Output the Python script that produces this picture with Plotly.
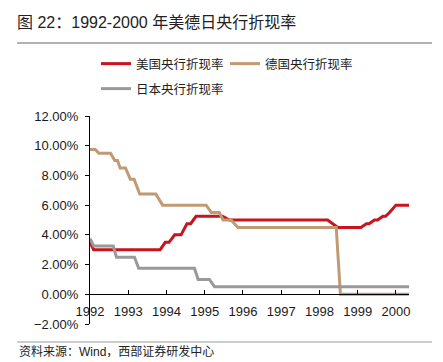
import plotly.graph_objects as go

# ---------------- data ----------------
us_dates = ["1992-01-01", "1992-02-05", "1993-11-01", "1993-12-20", "1994-01-25",
            "1994-03-20", "1994-05-20", "1994-07-15", "1994-08-20", "1994-10-10",
            "1995-06-20", "1995-08-25", "1998-03-20", "1998-06-25", "1999-02-01",
            "1999-03-25", "1999-04-20", "1999-06-10", "1999-07-10", "1999-08-30",
            "1999-09-25", "1999-11-01", "2000-01-01", "2000-05-05"]
us_vals = [3.5, 3.0, 3.0, 3.5, 3.5,
           4.0, 4.0, 4.75, 4.75, 5.25,
           5.25, 5.0, 5.0, 4.5, 4.5,
           4.75, 4.75, 5.0, 5.0, 5.25,
           5.25, 5.5, 6.0, 6.0]

de_dates = ["1992-01-01", "1992-02-20", "1992-03-25", "1992-07-15", "1992-08-25",
            "1992-09-20", "1992-10-15", "1992-12-05", "1993-01-20", "1993-02-25",
            "1993-04-20", "1993-09-20", "1993-11-25", "1995-01-15", "1995-03-05",
            "1995-05-20", "1995-06-25", "1995-09-10", "1995-11-15", "1998-06-10",
            "1998-07-20", "2000-05-05"]
de_vals = [9.75, 9.75, 9.5, 9.5, 9.0,
           9.0, 8.5, 8.5, 7.75, 7.75,
           6.75, 6.75, 6.0, 6.0, 5.5,
           5.5, 5.0, 5.0, 4.5, 4.5,
           0.0, 0.0]

jp_dates = ["1992-01-01", "1992-02-05", "1992-08-10", "1992-09-10", "1993-03-01",
            "1993-04-10", "1994-09-25", "1994-10-30", "1995-02-15", "1995-04-05",
            "2000-05-05"]
jp_vals = [3.75, 3.25, 3.25, 2.5, 2.5,
           1.75, 1.75, 1.0, 1.0, 0.5,
           0.5]

series_names = ["美国央行折现率", "德国央行折现率", "日本央行折现率"]
title_text = "图 22：1992-2000 年美德日央行折现率"
source_text = "资料来源：Wind，西部证券研发中心"

# ---------------- layout constants ----------------
# the page body adds an 8px margin, so the figure is drawn 8px smaller
OFF = 8
W, H = 443 - OFF, 362 - OFF
ML, MR, MT, MB = 90 - OFF, 34, 116 - OFF, 38
PW, PH = W - ML - MR, H - MT - MB
FONT = "Liberation Sans, Arial, Noto Sans CJK SC"
RED, TAN, GRAY = "#C8141E", "#C09A72", "#999999"


def px_x(px):  # reference-picture pixel -> paper fraction
    return (px - OFF - ML) / PW


def px_y(py):
    return (H - MB - (py - OFF)) / PH


fig = go.Figure()
fig.add_trace(go.Scatter(x=us_dates, y=us_vals, mode="lines", name=series_names[0],
                         line=dict(color=RED, width=3), legend="legend"))
fig.add_trace(go.Scatter(x=de_dates, y=de_vals, mode="lines", name=series_names[1],
                         line=dict(color=TAN, width=3), legend="legend"))
fig.add_trace(go.Scatter(x=jp_dates, y=jp_vals, mode="lines", name=series_names[2],
                         line=dict(color=GRAY, width=3), legend="legend2"))

legend_common = dict(orientation="h", xref="container", yref="container",
                     xanchor="left", yanchor="middle", itemwidth=30,
                     entrywidth=84, bgcolor="rgba(0,0,0,0)",
                     font=dict(family=FONT, size=12.5, color="#222222"))

fig.update_layout(
    width=W, height=H,
    margin=dict(l=ML, r=MR, t=MT, b=MB, autoexpand=False),
    paper_bgcolor="white", plot_bgcolor="white",
    font=dict(family=FONT, color="#1a1a1a"),
    showlegend=True,
    title=dict(text=title_text, xref="container", yref="container",
               x=(17 - OFF) / W, xanchor="left",
               y=1 - (22 - OFF) / H, yanchor="middle",
               font=dict(family=FONT, size=16, color="#222222")),
    legend=dict(x=(96 - OFF) / W, y=1 - (64 - OFF) / H, **legend_common),
    legend2=dict(x=(96 - OFF) / W, y=1 - (89 - OFF) / H, **legend_common),
    xaxis=dict(type="date", range=["1992-01-01", "2000-05-05"],
               tick0="1992-01-01", dtick="M12", tickformat="%Y",
               ticks="inside", ticklen=4, tickcolor="black",
               showline=True, linecolor="black", linewidth=1,
               showgrid=False, zeroline=False,
               anchor="free", position=2 / 14,
               ticklabelstandoff=5,
               tickfont=dict(family=FONT, size=13, color="#1a1a1a")),
    yaxis=dict(range=[-2, 12], dtick=2, tick0=0, tickformat=".2f", ticksuffix="%",
               ticks="outside", ticklen=4, tickcolor="black",
               showline=True, linecolor="black", linewidth=1,
               showgrid=False, zeroline=False,
               ticklabelstandoff=4,
               tickfont=dict(family=FONT, size=13, color="#1a1a1a")),
)

fig.add_annotation(text=source_text, xref="paper", yref="paper",
                   x=px_x(17), y=px_y(351), xanchor="left", yanchor="middle",
                   showarrow=False, font=dict(family=FONT, size=12, color="#222222"))

fig.add_shape(type="line", xref="paper", yref="paper",
              x0=px_x(17), x1=px_x(432), y0=px_y(43), y1=px_y(43),
              line=dict(color="#999999", width=1.5))
fig.add_shape(type="line", xref="paper", yref="paper",
              x0=px_x(17), x1=px_x(432), y0=px_y(342), y1=px_y(342),
              line=dict(color="#999999", width=1))

fig.write_html("out.html")
